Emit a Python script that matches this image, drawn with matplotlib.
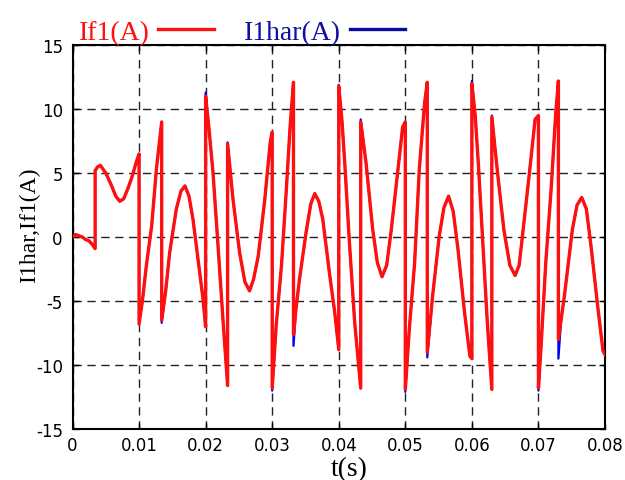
import matplotlib
matplotlib.use("Agg")
import matplotlib.pyplot as plt

plt.rcParams["axes.unicode_minus"] = False

# Sample times (s) of the waveform vertices; repeated times are step jumps
t = [
    0.0, 0.0005, 0.001, 0.0015, 0.002, 0.0025, 0.003, 0.0034,
    0.0034, 0.0038, 0.0042, 0.005, 0.0058, 0.0065, 0.0071, 0.0077, 0.0084, 0.009, 0.0096, 0.01,
    0.01, 0.0105, 0.0111, 0.0119, 0.0126, 0.0134,
    0.0134, 0.014, 0.0146, 0.0156, 0.0163, 0.0169, 0.0175, 0.0181, 0.0191, 0.0196, 0.02,
    0.02, 0.0205, 0.0211, 0.0218, 0.0226, 0.0233,
    0.0233, 0.0241, 0.0251, 0.0259, 0.0266, 0.0272, 0.0279, 0.0289, 0.0297, 0.03,
    0.03, 0.0306, 0.0314, 0.0321, 0.0327, 0.0332,
    0.0332, 0.0336, 0.0341, 0.0351, 0.0358, 0.0364, 0.037, 0.0376, 0.0386, 0.0394, 0.04,
    0.04, 0.0405, 0.0409, 0.0416, 0.0424, 0.0433,
    0.0433, 0.0441, 0.0451, 0.0458, 0.0465, 0.0472, 0.0479, 0.0489, 0.0496, 0.05,
    0.05, 0.0506, 0.0514, 0.0521, 0.0529, 0.0533,
    0.0533, 0.0541, 0.0551, 0.0558, 0.0565, 0.0572, 0.0579, 0.0589, 0.0597, 0.06,
    0.06, 0.0605, 0.061, 0.0617, 0.0623, 0.063,
    0.063, 0.0638, 0.0648, 0.0657, 0.0665, 0.0671, 0.0676, 0.0686, 0.0695, 0.07,
    0.07, 0.0704, 0.0711, 0.0719, 0.0726, 0.073,
    0.073, 0.0734, 0.0739, 0.0751, 0.0758, 0.0765, 0.0772, 0.0779, 0.0789, 0.0797, 0.08,
]

# Filter current If1 (A)
if1 = [
    0.0, 0.2, 0.1, 0.0, -0.2, -0.3, -0.6, -0.9,
    5.2, 5.5, 5.6, 5.0, 4.1, 3.2, 2.8, 3.0, 3.9, 4.8, 5.9, 6.5,
    -6.8, -5.0, -2.2, 0.9, 5.3, 9.0,
    -6.5, -4.2, -1.2, 2.2, 3.6, 4.0, 3.2, 1.4, -2.7, -4.8, -7.0,
    11.0, 8.5, 5.1, -0.2, -6.4, -11.6,
    7.3, 3.0, -1.2, -3.5, -4.2, -3.3, -1.5, 3.0, 7.4, 8.2,
    -11.8, -6.9, -2.2, 3.5, 8.7, 12.1,
    -7.6, -5.5, -3.3, 0.4, 2.6, 3.4, 2.8, 1.4, -2.8, -5.9, -8.8,
    11.8, 9.0, 5.8, -0.4, -6.7, -11.8,
    9.0, 5.8, 0.6, -2.0, -3.1, -2.2, 0.6, 5.3, 8.6, 9.0,
    -11.9, -7.2, -2.0, 5.3, 10.5, 12.1,
    -9.0, -4.6, 0.1, 2.3, 3.2, 2.0, -0.9, -5.9, -9.3, -9.5,
    12.0, 9.5, 5.5, -1.0, -6.5, -11.9,
    9.4, 5.3, 0.6, -2.2, -3.0, -2.2, 0.1, 4.8, 9.2, 9.5,
    -11.8, -8.5, -2.0, 3.7, 9.7, 12.2,
    -8.0, -6.5, -4.6, 0.6, 2.5, 3.1, 2.2, -0.7, -5.4, -8.9, -9.2,
]

# Harmonic reference current I1har (A)
i1har = [
    0.0, 0.2, 0.1, 0.0, -0.2, -0.3, -0.6, -0.9,
    5.2, 5.5, 5.6, 5.0, 4.1, 3.2, 2.8, 3.0, 3.9, 4.8, 5.9, 6.5,
    -6.6, -5.0, -2.2, 0.9, 5.3, 9.0,
    -6.7, -4.2, -1.2, 2.2, 3.6, 4.0, 3.2, 1.4, -2.7, -4.8, -7.0,
    11.3, 8.5, 5.1, -0.2, -6.4, -11.6,
    7.4, 3.0, -1.2, -3.5, -4.2, -3.3, -1.5, 3.0, 7.4, 8.2,
    -12.0, -6.9, -2.2, 3.5, 8.7, 12.0,
    -8.5, -5.5, -3.3, 0.4, 2.6, 3.4, 2.8, 1.4, -2.8, -5.9, -8.8,
    11.9, 9.0, 5.8, -0.4, -6.7, -11.8,
    9.2, 5.8, 0.6, -2.0, -3.1, -2.2, 0.6, 5.3, 8.6, 9.0,
    -12.1, -7.2, -2.0, 5.3, 10.5, 12.0,
    -9.4, -4.6, 0.1, 2.3, 3.2, 2.0, -0.9, -5.9, -9.3, -9.5,
    12.2, 9.5, 5.5, -1.0, -6.5, -11.9,
    9.5, 5.3, 0.6, -2.2, -3.0, -2.2, 0.1, 4.8, 9.2, 9.5,
    -12.0, -8.5, -2.0, 3.7, 9.7, 12.2,
    -9.5, -6.5, -4.6, 0.6, 2.5, 3.1, 2.2, -0.7, -5.4, -8.9, -9.2,
]

x_ticks = [0, 0.01, 0.02, 0.03, 0.04, 0.05, 0.06, 0.07, 0.08]
x_tick_labels = ["0", "0.01", "0.02", "0.03", "0.04", "0.05", "0.06", "0.07", "0.08"]
y_ticks = [-15, -10, -5, 0, 5, 10, 15]

fig = plt.figure(figsize=(6.25, 4.81), dpi=100)
ax = fig.add_axes([0.116, 0.106, 0.852, 0.798])

ax.plot(t, i1har, color="#0000ee", lw=1.6, label="I1har(A)", zorder=3)
ax.plot(t, if1, color="#ff1010", lw=2.4, label="If1(A)", zorder=4)

ax.set_xlim(0, 0.08)
ax.set_ylim(-15, 15)
ax.set_xticks(x_ticks)
ax.set_xticklabels(x_tick_labels)
ax.set_yticks(y_ticks)

ax.grid(True, color="#222222", linestyle=(0, (6, 4)), linewidth=1.0, zorder=1)
ax.set_axisbelow(True)

for side in ax.spines.values():
    side.set_linewidth(1.5)
    side.set_color("black")

ax.tick_params(direction="in", length=4, width=1, top=True, right=True,
               labelsize=12, colors="black")
ax.tick_params(axis="x", pad=5)
ax.tick_params(axis="y", pad=7)

serif = ["Liberation Serif", "DejaVu Serif"]
ax.set_xlabel("t(s)", fontsize=20, family=serif, labelpad=0)
ax.xaxis.set_label_coords(0.52, -0.07)
ax.set_ylabel("I1har,If1(A)", fontsize=17, family=serif, labelpad=2)
ax.yaxis.set_label_coords(-0.06, 0.534)

handles, labels = ax.get_legend_handles_labels()
leg = ax.legend(handles[::-1], labels[::-1], ncol=2, markerfirst=False,
                frameon=False, loc="lower left", bbox_to_anchor=(0.012, 1.0),
                prop={"family": serif, "size": 20}, labelcolor="linecolor",
                handlelength=2.0, handletextpad=0.3, columnspacing=1.1,
                borderaxespad=0.0, borderpad=0.0)
leg.get_texts()[1].set_color("#1010a0")
leg.legend_handles[1].set_color("#0a0a9a")
leg.legend_handles[1].set_linewidth(2.4)

fig.savefig("out.png", dpi=100)
